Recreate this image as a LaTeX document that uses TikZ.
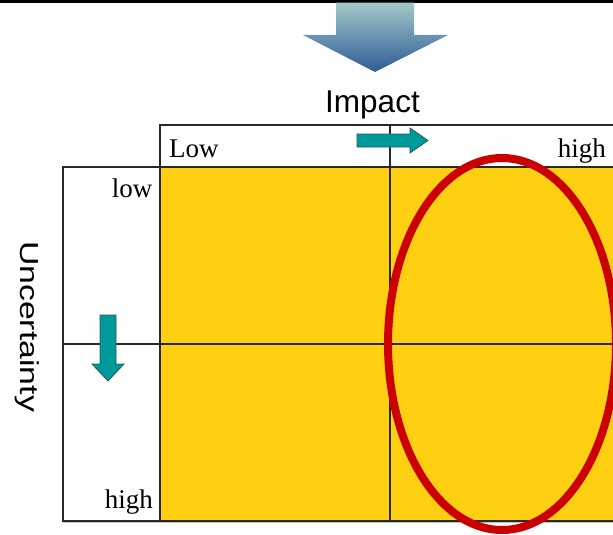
\documentclass[tikz,border=0pt]{standalone}
\usepackage{fontspec}
\setmainfont{Liberation Serif}
\newfontfamily\arialf{Liberation Sans}
\usepackage{graphicx}
\definecolor{cellyellow}{RGB}{255,207,17}
\definecolor{ringred}{RGB}{204,0,0}
\definecolor{teal1}{RGB}{0,153,153}
\definecolor{tealedge}{RGB}{40,90,90}
\definecolor{gridline}{RGB}{40,40,40}
\definecolor{bigtop}{RGB}{162,200,200}
\definecolor{bigbot}{RGB}{46,92,150}
\tikzset{
  grid line/.style={draw=gridline, line width=1.1pt},
  serif label/.style={inner sep=0pt, font=\fontsize{27}{30}\selectfont},
  sans label/.style={inner sep=0pt, font=\arialf\fontsize{31.5}{34}\selectfont},
  small arrow/.style={fill=teal1, draw=tealedge, line width=0.8pt, line join=miter},
}
\begin{document}
\begin{tikzpicture}[x=1pt, y=-1pt]
\useasboundingbox (0,0) rectangle (613,535);
% top bar
\fill[black] (0,0) rectangle (613,2.7);
% big gradient arrow
\shade[top color=bigtop, bottom color=bigbot]
  (336,2.7) -- (414,2.7) -- (414,35) -- (448,35) -- (375,72) -- (303,35) -- (336,35) -- cycle;
% header and cells
\fill[white] (160,125) rectangle (613,167);
\fill[cellyellow] (160,167) rectangle (613,521);
\draw[gray!50, line width=1pt] (63,522.8) -- (613,522.8);
\draw[grid line] (613,125) -- (160,125) -- (160,521);
\draw[grid line] (160,167) -- (613,167);
\draw[grid line] (63,167) rectangle (160,521);
\draw[grid line] (160,521) -- (613,521);
\draw[grid line] (390,125) -- (390,521);
\draw[grid line] (63,344) -- (613,344);
% labels
\node[sans label, anchor=base] (impact) at (372.5,112) {Impact};
\node[inner sep=0pt, anchor=base, rotate=-90, font=\arialf\fontsize{26}{30}\selectfont] (unc) at (20.7,326.5) {\scalebox{1.3}[1]{Uncertainty}};
\node[serif label, anchor=base west] (lowx) at (169,157) {Low};
\node[serif label, anchor=base east] (highx) at (606,157) {high};
\node[serif label, anchor=base east] (lowy) at (152.5,197) {low};
\node[serif label, anchor=base east] (highy) at (153,508) {high};
% small arrows
\draw[small arrow] (357,134) -- (410,134) -- (410,128) -- (428,140.5) -- (410,153) -- (410,147) -- (357,147) -- cycle;
\draw[small arrow] (100,315) -- (116,315) -- (116,364) -- (124,364) -- (108,381) -- (92,364) -- (100,364) -- cycle;
% red ellipse
\draw[ringred, line width=8pt] (502,344) ellipse [x radius=114, y radius=186];
\end{tikzpicture}
\end{document}
